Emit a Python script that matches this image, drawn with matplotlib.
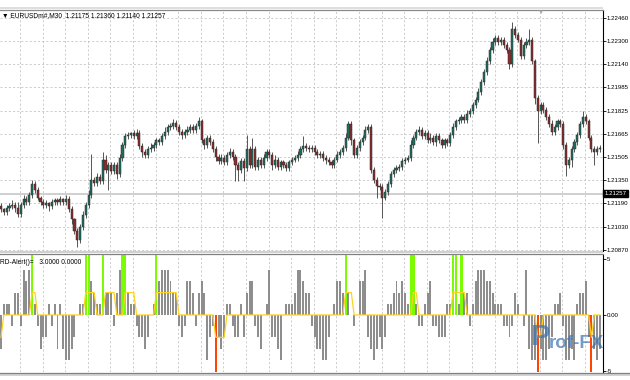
import matplotlib.pyplot as plt
from matplotlib.lines import Line2D
from matplotlib.patches import Rectangle
import numpy as np

plt.rcParams['font.family'] = ['Liberation Sans', 'DejaVu Sans']

symbol_text = '\u25bc EURUSDm#,M30  1.21175 1.21360 1.21140 1.21257'
indicator_text = 'RD-Alert()=   3.0000 0.0000'
last_price = 1.21257
first_open = 1.2117

# M30 closes, one per bar
close = [
    1.2115, 1.2113, 1.2116, 1.2117, 1.2118, 1.2116, 1.2112, 1.2118, 1.2122, 1.2120,
    1.2125, 1.2132, 1.2128, 1.2123, 1.2120, 1.2118, 1.2119, 1.2117, 1.2120, 1.2121,
    1.2120, 1.2122, 1.2120, 1.2122, 1.2115, 1.2108, 1.2100, 1.2094, 1.2103, 1.2111,
    1.2118, 1.2125, 1.2135, 1.2133, 1.2137, 1.2134, 1.2149, 1.2142, 1.2145, 1.2141,
    1.2145, 1.2139, 1.2150, 1.2159, 1.2165, 1.2166, 1.2167, 1.2165, 1.2167, 1.2158,
    1.2154, 1.2152, 1.2156, 1.2157, 1.2159, 1.2162, 1.2161, 1.2165, 1.2168, 1.2171,
    1.2172, 1.2174, 1.2171, 1.2168, 1.2166, 1.2168, 1.2169, 1.2171, 1.2169, 1.2172,
    1.2175, 1.2162, 1.2159, 1.2164, 1.2161, 1.2156, 1.2151, 1.2148, 1.2150, 1.2147,
    1.2152, 1.2154, 1.2151, 1.2145, 1.2142, 1.2148, 1.2143, 1.2156, 1.2145, 1.2156,
    1.2144, 1.2149, 1.2145, 1.2150, 1.2154, 1.2152, 1.2145, 1.2149, 1.2144, 1.2147,
    1.2145, 1.2143, 1.2147, 1.2149, 1.2150, 1.2152, 1.2156, 1.2158, 1.2157, 1.2156,
    1.2157, 1.2154, 1.2152, 1.2153, 1.2150, 1.2149, 1.2147, 1.2145, 1.2149, 1.2152,
    1.2154, 1.2157, 1.2164, 1.2173, 1.2162, 1.2152, 1.2157, 1.2161, 1.2164, 1.2169,
    1.2171, 1.2142, 1.2135, 1.2131, 1.2130, 1.2123, 1.2127, 1.2132, 1.2139, 1.2142,
    1.2143, 1.2144, 1.2148, 1.2149, 1.2150, 1.2159, 1.2164, 1.2168, 1.2169, 1.2165,
    1.2167, 1.2162, 1.2164, 1.2161, 1.2165, 1.2162, 1.2159, 1.2162, 1.2160, 1.2166,
    1.2171, 1.2175, 1.2176, 1.2178, 1.2176, 1.2180, 1.2182, 1.2186, 1.2190, 1.2195,
    1.2202, 1.2209, 1.2216, 1.2224, 1.2229, 1.2232, 1.2229, 1.2231, 1.2227, 1.2224,
    1.2214, 1.2238, 1.2234, 1.2231, 1.2220, 1.2227, 1.2229, 1.2231, 1.2216, 1.2191,
    1.2182, 1.2186, 1.2183, 1.2178, 1.2173, 1.2168, 1.2171, 1.2175, 1.2173, 1.2159,
    1.2145, 1.2149, 1.2156, 1.2161, 1.2166, 1.2173, 1.2178, 1.2175, 1.2164, 1.2156,
    1.2154, 1.2156, 1.2157,
]

# wick lengths above / below the body, in pips
wick_up = [
    2, 1, 2, 2, 3, 2, 4, 2, 3, 2,
    2, 3, 2, 2, 1, 2, 2, 1, 2, 2,
    2, 2, 1, 3, 2, 2, 1, 2, 2, 3,
    2, 3, 18, 2, 3, 2, 5, 3, 2, 2,
    2, 2, 3, 2, 2, 2, 1, 2, 3, 2,
    2, 2, 2, 3, 2, 2, 2, 2, 3, 2,
    2, 3, 2, 2, 2, 2, 3, 2, 2, 2,
    3, 2, 2, 2, 2, 2, 2, 2, 3, 2,
    2, 3, 2, 2, 2, 2, 2, 10, 2, 8,
    2, 2, 2, 3, 2, 2, 2, 3, 2, 2,
    2, 2, 2, 2, 2, 3, 2, 7, 2, 2,
    2, 2, 2, 2, 2, 2, 2, 2, 2, 3,
    2, 2, 3, 2, 2, 2, 2, 2, 2, 3,
    2, 2, 2, 2, 2, 2, 2, 2, 2, 2,
    2, 2, 2, 2, 2, 3, 2, 2, 3, 2,
    2, 2, 3, 2, 2, 2, 2, 2, 2, 2,
    3, 2, 2, 2, 2, 3, 2, 2, 2, 3,
    2, 2, 3, 2, 3, 2, 2, 2, 2, 2,
    2, 5, 2, 2, 2, 2, 3, 7, 2, 2,
    2, 2, 2, 2, 2, 3, 2, 2, 2, 2,
    2, 2, 2, 2, 2, 2, 4, 2, 2, 2,
    2, 2, 2,
]
wick_down = [
    2, 2, 2, 2, 2, 3, 2, 2, 2, 2,
    2, 2, 2, 2, 2, 2, 2, 3, 2, 2,
    2, 2, 2, 2, 2, 3, 2, 5, 2, 2,
    2, 2, 2, 2, 2, 2, 2, 2, 14, 2,
    2, 3, 2, 2, 2, 2, 2, 2, 2, 2,
    3, 2, 2, 2, 2, 2, 2, 2, 2, 2,
    2, 2, 2, 2, 3, 2, 2, 2, 2, 2,
    2, 2, 3, 2, 2, 2, 3, 2, 2, 2,
    2, 2, 2, 11, 8, 2, 9, 2, 2, 2,
    2, 2, 2, 2, 2, 2, 3, 2, 2, 2,
    2, 2, 2, 2, 2, 2, 2, 2, 2, 2,
    2, 2, 2, 2, 2, 3, 2, 2, 2, 2,
    2, 2, 2, 2, 3, 2, 2, 2, 2, 2,
    2, 2, 2, 8, 2, 14, 2, 2, 2, 2,
    2, 2, 2, 2, 2, 2, 2, 2, 2, 2,
    2, 2, 2, 2, 3, 2, 2, 2, 2, 2,
    2, 2, 2, 2, 2, 2, 2, 2, 2, 2,
    2, 2, 2, 2, 2, 2, 2, 2, 2, 2,
    3, 2, 2, 2, 2, 2, 2, 2, 2, 4,
    22, 2, 2, 2, 2, 2, 2, 2, 2, 3,
    7, 2, 5, 2, 2, 2, 2, 2, 2, 2,
    9, 2, 2,
]

# RD-Alert histogram and its signal line
hist = [
    -3, 1, 1, 1, -1, 2, 2, -1, 4, 3,
    4, 3, 1, -1, -3, -2, -2, 1, -1, 1,
    -3, 1, -3, -4, -4, -3, -2, 0, 1, 1,
    2, 3, 3, 2, 1, 1, 2, 2, 2, 2,
    -1, 2, 4, 3, 3, 2, 1, 1, -1, -2,
    -2, -3, -2, 0, 1, 2, 3, 4, 4, 4,
    3, 2, 2, -1, -2, -1, 3, 3, 2, -1,
    2, 3, 2, -4, -2, -1, -4, -2, -3, -2,
    1, 1, -1, -2, -2, 1, -2, 2, 3, 3,
    -1, -2, -3, 0, 1, 4, -2, -2, -3, -4,
    0, 1, 1, 1, 2, 4, 4, 3, 2, 2,
    -1, -2, -3, -3, -4, -4, -2, 0, 1, 3,
    3, 2, 1, 2, 0, -1, 0, 3, 3, 4,
    -2, -3, -4, -3, -2, -3, -2, 1, 1, 2,
    3, 2, 3, 2, 1, 2, 2, 1, -1, -1,
    1, 2, 3, -1, -1, -2, -2, -2, 1, 1,
    2, 2, 1, 2, 2, 2, -1, 1, 3, 4,
    4, 4, 3, 3, 2, 1, 1, 1, -1, -1,
    -2, -1, 2, 1, 0, -1, 4, -3, -4, -4,
    -4, -3, -4, -4, -3, -2, 1, 1, 2, -1,
    -4, -4, -3, -4, 1, 2, 2, 3, -2, -4,
    -3, -4, -3,
]
signal = [
    -2, 0, 0, 0, 0, 0, 0, 0, 0, 0,
    0, 2, 2, 0, 0, 0, 0, 0, 0, 0,
    0, 0, 0, 0, 0, 0, 0, 0, 0, 0,
    2, 2, 2, 2, 0, 0, 0, 2, 2, 2,
    2, 0, 0, 0, 2, 2, 2, 2, 0, 0,
    0, 0, 0, 0, 0, 2, 2, 2, 2, 2,
    2, 2, 2, 0, 0, 0, 0, 0, 0, 0,
    0, 0, 0, 0, 0, 0, -2, -2, -2, -2,
    0, 0, 0, 0, 0, 0, 0, 0, 0, 0,
    0, 0, 0, 0, 0, 0, 0, 0, 0, 0,
    0, 0, 0, 0, 0, 0, 0, 0, 0, 0,
    0, 0, 0, 0, 0, 0, 0, 0, 0, 0,
    0, 0, 2, 2, 2, 0, 0, 0, 0, 0,
    0, 0, 0, 0, 0, 0, 0, 0, 0, 0,
    0, 0, 0, 0, 0, 0, 2, 2, 0, 0,
    0, 0, 0, 0, 0, 0, 0, 0, 0, 0,
    2, 2, 2, 2, 2, 0, 0, 0, 0, 0,
    0, 0, 0, 0, 0, 0, 0, 0, 0, 0,
    0, 0, 0, 0, 0, 0, 0, 0, 0, 0,
    -2, -2, 0, 0, 0, 0, 0, 0, 0, 0,
    0, 0, 0, 0, 0, 0, 0, 0, 0, -2,
    0, 0, 0,
]
buy_bars = [11, 30, 31, 36, 43, 44, 55, 122, 145, 146, 160, 161, 163]
sell_bars = [76, 190, 209]

price_levels = [1.22460, 1.22300, 1.22140, 1.21985, 1.21825, 1.21665,
                1.21505, 1.21350, 1.21190, 1.21030, 1.20870]
osc_levels = [5, 0, -5]
osc_labels = ['5', '0.00', '-5']

W, H = 630, 380


def fy(py):
    return 1 - py / H


pip = 0.0001
close = np.array(close)
opens = np.r_[first_open, close[:-1]]
high = np.maximum(opens, close) + np.array(wick_up) * pip
low = np.minimum(opens, close) - np.array(wick_down) * pip
x = np.arange(len(close))
bull = close >= opens

fig = plt.figure(figsize=(W / 100, H / 100), dpi=100)
fig.patch.set_facecolor('white')
ax = fig.add_axes([0, fy(250.5), 603 / W, (250.5 - 10) / H])
ax2 = fig.add_axes([0, fy(372), 603 / W, (372 - 255) / H])

grid_kw = dict(color='#c4c4c4', linestyle=(0, (2.5, 2.5)), linewidth=0.6)
grid_x = np.arange(6.73, len(close), 8)
for a in (ax, ax2):
    a.set_xlim(-0.354, 213.1)
    a.set_xticks(grid_x)
    a.tick_params(axis='x', length=0, labelbottom=False)
    for s in ('top', 'left', 'bottom'):
        a.spines[s].set_visible(False)
    a.spines['right'].set_color('black')
    a.spines['right'].set_linewidth(0.8)
    a.yaxis.tick_right()
    a.tick_params(axis='y', length=2, width=0.6, labelsize=4.4, pad=0.6)
    a.set_axisbelow(True)

# price pane
ax.set_ylim(1.20868, 1.22512)
ax.set_yticks(price_levels)
ax.set_yticklabels(['%.5f' % v for v in price_levels])
ax.grid(True, **grid_kw)
ax.axhline(last_price, color='#cfcfcf', lw=1.4, zorder=0.8)

ax.vlines(x, low, high, color='#555555', lw=0.7, zorder=2)
ax.bar(x[bull], close[bull] - opens[bull], bottom=opens[bull], width=0.75,
       color='#1f6e5f', edgecolor='#2b2b2b', linewidth=0.35, zorder=3)
ax.bar(x[~bull], close[~bull] - opens[~bull], bottom=opens[~bull], width=0.75,
       color='#8a2d2d', edgecolor='#2b2b2b', linewidth=0.35, zorder=3)

ax.text(1.002, last_price, '%.5f' % last_price, transform=ax.get_yaxis_transform(),
        ha='left', va='center', fontsize=4.4, color='white', clip_on=False,
        bbox=dict(boxstyle='square,pad=0.2', facecolor='black', edgecolor='black'))

# indicator pane
top, bottom = 5.36, -5.1
ax2.set_ylim(bottom, top)
ax2.set_yticks(osc_levels)
ax2.set_yticklabels(osc_labels)
ax2.grid(True, axis='x', **grid_kw)
ax2.bar(x, hist, width=0.7, color='#8e8e8e', zorder=2)
ax2.bar(buy_bars, top, width=0.75, color='#7cfc00', zorder=3)
ax2.bar(sell_bars, bottom, width=0.75, color='#ff4500', zorder=3)
ax2.plot(x, signal, color='#ffd21f', lw=0.9, zorder=4)

# window frame bands
fig.add_artist(Rectangle((0, fy(8.6)), 603 / W, 2 / H, transform=fig.transFigure,
                         facecolor='#dedede', edgecolor='none'))
fig.add_artist(Line2D([0, 603 / W], [fy(9.5)] * 2, color='#8a8a8a', lw=0.9))
fig.add_artist(Rectangle((0, fy(253.2)), 603 / W, 2.2 / H, transform=fig.transFigure,
                         facecolor='#d0d0d0', edgecolor='none'))
fig.add_artist(Line2D([0, 603 / W], [fy(254.3)] * 2, color='#808080', lw=0.9))
fig.add_artist(Line2D([0, 1], [fy(372.6)] * 2, color='#808080', lw=0.9))
fig.add_artist(Rectangle((0, fy(376)), 1, 2.8 / H, transform=fig.transFigure,
                         facecolor='#d4d4d4', edgecolor='none'))

fig.text(2 / W, fy(15.5), symbol_text, fontsize=4.8, va='center', ha='left')
fig.text(541 / W, fy(12), '\u25bc', fontsize=4.5, color='#a8a8a8', ha='center', va='center')
fig.text(0 / W, fy(262), indicator_text, fontsize=4.8, va='center', ha='left')

# watermark
fig.text(531 / W, fy(337), 'P', fontsize=21, fontweight='bold', color='#3a72b0',
         alpha=0.7, ha='left', va='center')
fig.text(549 / W, fy(343), 'rof-FX', fontsize=13.5, fontweight='bold', color='#3a72b0',
         alpha=0.7, ha='left', va='center')

fig.savefig('out.png', dpi=100)
